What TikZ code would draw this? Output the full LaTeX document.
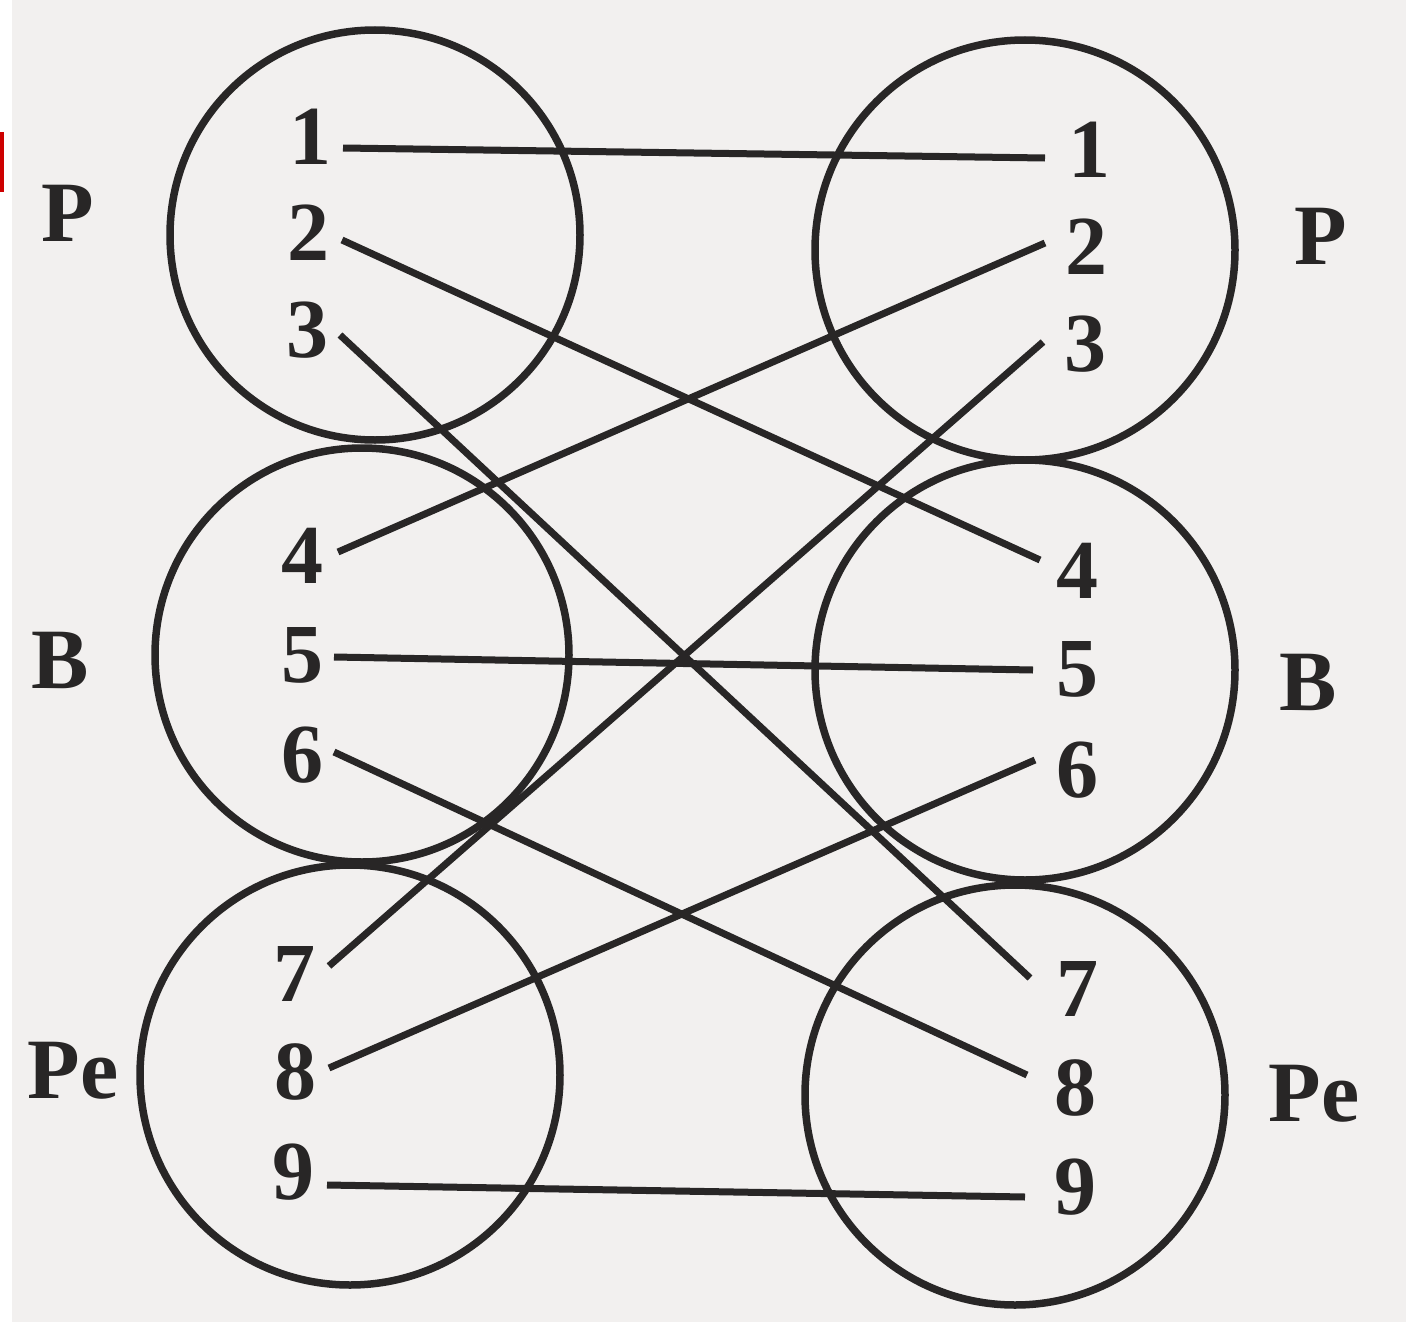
\documentclass[tikz,border=0pt]{standalone}
\usepackage{fontspec}
\setmainfont{Liberation Serif}
\usetikzlibrary{calc}
\definecolor{ink}{RGB}{40,38,38}
\definecolor{paper}{RGB}{242,240,239}
\definecolor{redmark}{RGB}{205,0,0}
\begin{document}
\begin{tikzpicture}[x=1pt,y=-1pt,
  ring/.style={circle,draw=ink,line width=7.5pt,inner sep=0pt,minimum size=#1},
  num/.style={text=ink,font=\fontsize{84}{84}\selectfont\bfseries,inner sep=0pt},
  lab/.style={text=ink,font=\fontsize{86}{86}\selectfont\bfseries,inner sep=0pt},
  link/.style={draw=ink,line width=7pt}]
\useasboundingbox (0,0) rectangle (1406,1330);
\fill[white] (0,0) rectangle (1406,1330);
\fill[paper] (12,0) rectangle (1406,1322);
\fill[redmark] (0,132) rectangle (4,192);
% circles
\node[ring=410pt] (cP1) at (375,235) {};
\node[ring=420pt] (cP2) at (1025,250) {};
\node[ring=414pt] (cB1) at (362,655) {};
\node[ring=420pt] (cB2) at (1025,670) {};
\node[ring=420pt] (cR1) at (350,1075) {};
\node[ring=420pt] (cR2) at (1015,1095) {};
% group labels
\node[lab] (pL) at (68,213) {P};
\node[lab] (pR) at (1321,236) {P};
\node[lab] (bL) at (60,660) {B};
\node[lab] (bR) at (1308,682) {B};
\node[lab] (rL) at (73,1071) {Pe};
\node[lab] (rR) at (1314,1094) {Pe};
% left numbers
\node[num] (l1) at (310,137) {1};
\node[num] (l2) at (308,233) {2};
\node[num] (l3) at (307,330) {3};
\node[num] (l4) at (302,556) {4};
\node[num] (l5) at (302,655) {5};
\node[num] (l6) at (302,755) {6};
\node[num] (l7) at (294,974) {7};
\node[num] (l8) at (295,1072) {8};
\node[num] (l9) at (293,1172) {9};
% right numbers
\node[num] (r1) at (1089,150) {1};
\node[num] (r2) at (1086,247) {2};
\node[num] (r3) at (1085,344) {3};
\node[num] (r4) at (1077,571) {4};
\node[num] (r5) at (1077,669) {5};
\node[num] (r6) at (1077,770) {6};
\node[num] (r7) at (1077,989) {7};
\node[num] (r8) at (1075,1088) {8};
\node[num] (r9) at (1075,1187) {9};
% connectors
\draw[link] ([xshift=33pt,yshift=-11pt]l1.center) -- ([xshift=-44pt,yshift=-8pt]r1.center);
\draw[link] ([xshift=34pt,yshift=-7pt]l2.center) -- ([xshift=-37pt,yshift=11pt]r4.center);
\draw[link] ([xshift=33pt,yshift=-5pt]l3.center) -- ([xshift=-47pt,yshift=11pt]r7.center);
\draw[link] ([xshift=36pt,yshift=4pt]l4.center) -- ([xshift=-41pt,yshift=4pt]r2.center);
\draw[link] ([xshift=32pt,yshift=-2pt]l5.center) -- ([xshift=-44pt,yshift=-1pt]r5.center);
\draw[link] ([xshift=32pt,yshift=3pt]l6.center) -- ([xshift=-48pt,yshift=13pt]r8.center);
\draw[link] ([xshift=35pt,yshift=8pt]l7.center) -- ([xshift=-42pt,yshift=2pt]r3.center);
\draw[link] ([xshift=34pt,yshift=4pt]l8.center) -- ([xshift=-42pt,yshift=10pt]r6.center);
\draw[link] ([xshift=34pt,yshift=-13pt]l9.center) -- ([xshift=-50pt,yshift=-10pt]r9.center);
\end{tikzpicture}
\end{document}
